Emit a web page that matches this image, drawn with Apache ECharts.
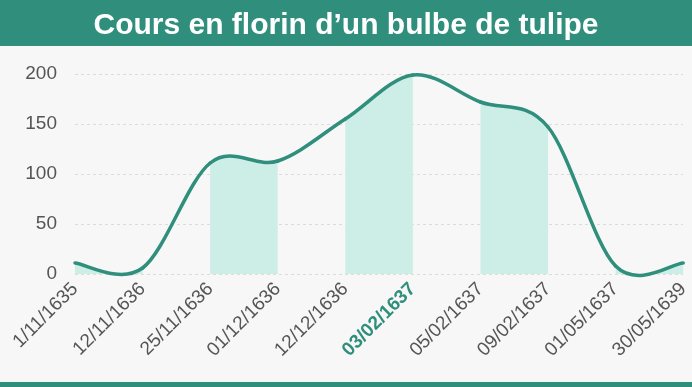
<!DOCTYPE html>
<html>
<head>
<meta charset="utf-8">
<script src="https://cdn.jsdelivr.net/npm/echarts@6/dist/echarts.min.js"></script>
<style>
html,body{margin:0;padding:0;background:#f7f7f7;}
#chart{width:692px;height:387px;}
</style>
</head>
<body>
<div id="chart"></div>
<script>
const titleText = 'Cours en florin d\u2019un bulbe de tulipe';
const categories = ['1/11/1635','12/11/1636','25/11/1636','01/12/1636','12/12/1636','03/02/1637','05/02/1637','09/02/1637','01/05/1637','30/05/1639'];
const prices = [11, 6, 111, 113, 155, 199, 172, 147, 8, 11];
const highlighted = '03/02/1637';
const yTicks = [0, 50, 100, 150, 200];

const teal = '#2f8f7c';
const fill = '#cdeee6';
const FONT = 'Liberation Sans, Arial, sans-serif';
const n = prices.length;
const K = 1 / 6; // Catmull-Rom tangent factor

function segment(api, i) {
  const p = prices.map((v, k) => api.coord([k, v]));
  const p0 = p[Math.max(i - 1, 0)], p1 = p[i], p2 = p[i + 1], p3 = p[Math.min(i + 2, n - 1)];
  return {
    p1: p1, p2: p2,
    c1: [p1[0] + (p2[0] - p0[0]) * K, p1[1] + (p2[1] - p0[1]) * K],
    c2: [p2[0] - (p3[0] - p1[0]) * K, p2[1] - (p3[1] - p1[1]) * K],
    base: api.coord([i, 0])[1]
  };
}

const chart = echarts.init(document.getElementById('chart'));
chart.setOption({
  backgroundColor: '#f7f7f7',
  animation: false,
  graphic: [
    {type: 'rect', left: 0, top: 0, shape: {width: 692, height: 46}, style: {fill: teal}, z: 0},
    {type: 'rect', left: 0, top: 382, shape: {width: 692, height: 5}, style: {fill: teal}, z: 0}
  ],
  title: {
    text: titleText,
    left: 'center',
    top: 6,
    textStyle: {color: '#fff', fontSize: 30, fontWeight: 'bold', fontFamily: FONT},
    z: 10
  },
  grid: {left: 75, right: 6, top: 74, bottom: 113},
  xAxis: {
    type: 'category',
    data: categories,
    boundaryGap: false,
    axisLine: {show: false},
    axisTick: {show: false},
    splitLine: {show: false},
    axisLabel: {
      rotate: 45,
      interval: 0,
      margin: 12,
      color: '#555',
      fontSize: 19,
      fontFamily: FONT,
      formatter: function (v) { return v === highlighted ? '{h|' + v + '}' : v; },
      rich: {h: {color: teal, fontWeight: 'bold', fontSize: 19, fontFamily: FONT}}
    }
  },
  yAxis: {
    type: 'value',
    min: yTicks[0],
    max: yTicks[yTicks.length - 1],
    interval: 50,
    axisLine: {show: false},
    axisTick: {show: false},
    axisLabel: {color: '#555', fontSize: 19, margin: 18, fontFamily: FONT},
    splitLine: {lineStyle: {color: '#dcdcdc', type: [3, 3], width: 1}}
  },
  series: [
    {
      type: 'custom',
      z: 2,
      clip: false,
      data: prices.map((v, i) => [i, v]),
      encode: {x: 0, y: 1},
      renderItem: function (params, api) {
        const i = params.dataIndex;
        if (i >= n - 1 || i % 2 !== 0) return null;
        const s = segment(api, i);
        const d = 'M' + s.p1[0] + ',' + s.base + ' L' + s.p1[0] + ',' + s.p1[1] +
          ' C' + s.c1[0] + ',' + s.c1[1] + ' ' + s.c2[0] + ',' + s.c2[1] + ' ' + s.p2[0] + ',' + s.p2[1] +
          ' L' + s.p2[0] + ',' + s.base + ' Z';
        return {type: 'path', shape: {pathData: d}, style: {fill: fill, stroke: null}};
      }
    },
    {
      type: 'custom',
      z: 3,
      clip: false,
      data: prices.map((v, i) => [i, v]),
      encode: {x: 0, y: 1},
      renderItem: function (params, api) {
        const i = params.dataIndex;
        if (i >= n - 1) return null;
        const s = segment(api, i);
        return {
          type: 'bezierCurve',
          shape: {x1: s.p1[0], y1: s.p1[1], x2: s.p2[0], y2: s.p2[1],
                  cpx1: s.c1[0], cpy1: s.c1[1], cpx2: s.c2[0], cpy2: s.c2[1]},
          style: {fill: null, stroke: teal, lineWidth: 3.5, lineCap: 'round'}
        };
      }
    }
  ]
});
</script>
</body>
</html>
